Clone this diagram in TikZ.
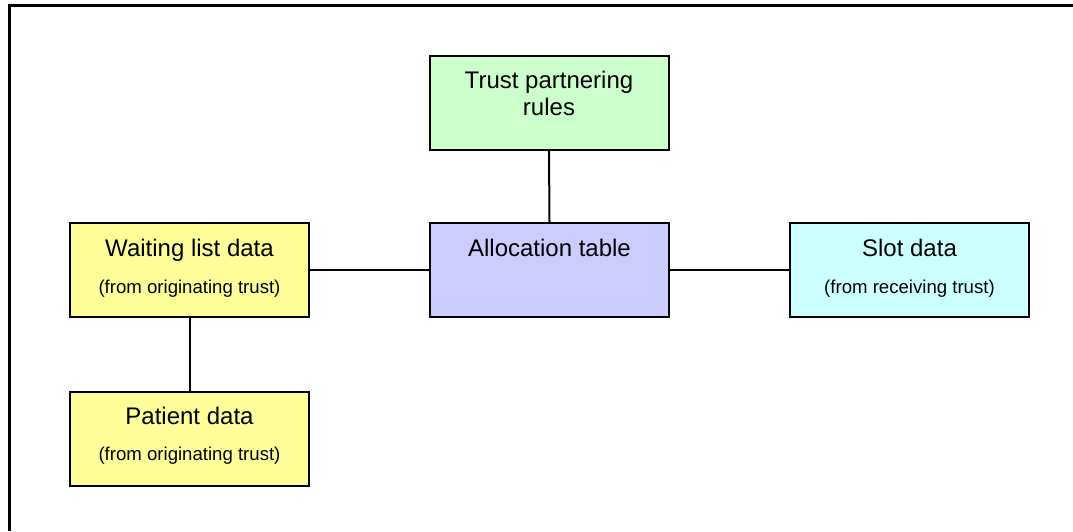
\documentclass[tikz,border=0pt]{standalone}
\usepackage{fontspec}
\setmainfont{Liberation Sans}
\begin{document}
\begin{tikzpicture}[x=1pt,y=-1pt,
  box/.style={draw=black,line width=2pt,rectangle,minimum width=239pt,minimum height=94pt,inner sep=0pt},
  title/.style={anchor=base,inner sep=0pt,font=\fontsize{24}{27}\selectfont},
  sub/.style={anchor=base,inner sep=0pt,font=\fontsize{18.6}{21}\selectfont},
  link/.style={draw=black,line width=2pt}]
\useasboundingbox (0,0) rectangle (1073,531);
% frame (top and left edges only)
\draw[line width=2.5pt] (9.5,531) -- (9.5,5.5) -- (1073,5.5);
% boxes
\node[box,fill={rgb,255:red,204;green,255;blue,204}] (trust) at (549,102.5) {};
\node[box,fill={rgb,255:red,204;green,204;blue,255}] (alloc) at (549.5,270) {};
\node[box,fill={rgb,255:red,255;green,255;blue,153}] (wait) at (189.5,270) {};
\node[box,fill={rgb,255:red,204;green,255;blue,255}] (slot) at (909.5,270) {};
\node[box,fill={rgb,255:red,255;green,255;blue,153}] (patient) at (189.5,438.5) {};
% texts
\node[title] (t1) at (549,88) {Trust partnering};
\node[title] (t2) at (549,115) {rules};
\node[title] (a1) at (549.5,256) {Allocation table};
\node[title] (w1) at (189.5,256) {Waiting list data};
\node[sub] (w2) at (189.5,293) {(from originating trust)};
\node[title] (s1) at (909.5,256) {Slot data};
\node[sub] (s2) at (909.5,293) {(from receiving trust)};
\node[title] (p1) at (189.5,424) {Patient data};
\node[sub] (p2) at (189.5,460) {(from originating trust)};
% connectors
\draw[link] (trust.south) -- (alloc.north);
\draw[link] (wait.east) -- (alloc.west);
\draw[link] (alloc.east) -- (slot.west);
\draw[link] (wait.south) -- (patient.north);
\end{tikzpicture}
\end{document}
